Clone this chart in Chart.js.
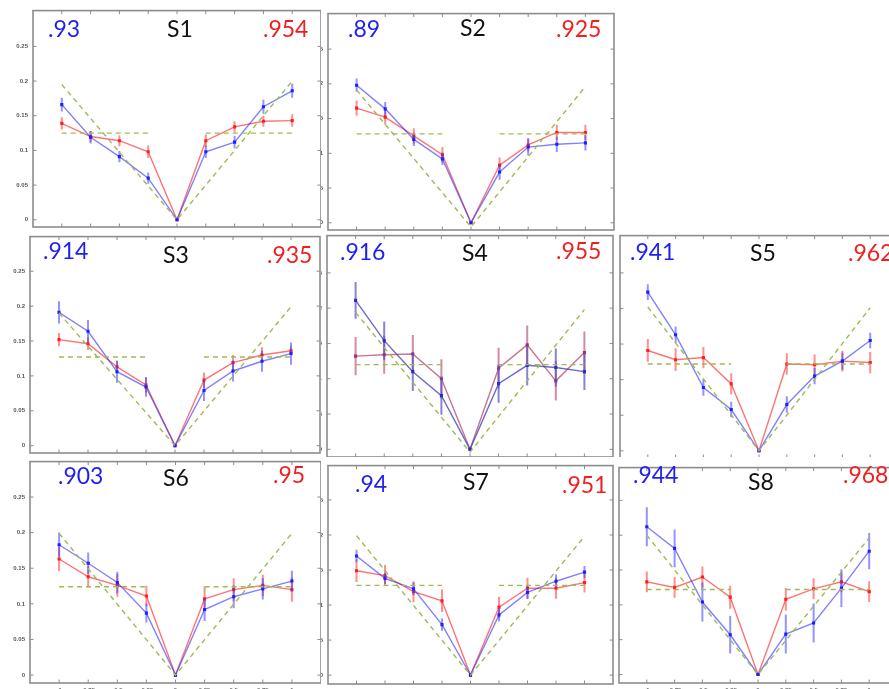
<!DOCTYPE html>
<html><head><meta charset="utf-8">
<script src="https://cdn.jsdelivr.net/npm/chart.js@4"></script>
<style>
html,body{margin:0;padding:0;background:#fff;width:889px;height:689px;overflow:hidden;position:relative}
.crop{position:absolute;overflow:hidden}
.crop canvas{position:absolute}
.lbl{position:absolute;font-family:Lato,'Open Sans',sans-serif;font-size:23px;line-height:23px;white-space:nowrap}
</style></head><body>
<script>
// shared axes
const xValues = [-1, -0.75, -0.5, -0.25, 0, 0.25, 0.5, 0.75, 1];
const xTickLabels = ['-1', '-0.75', '-0.5', '-0.25', '0', '0.25', '0.5', '0.75', '1'];
const yTickValues = [0, 0.05, 0.1, 0.15, 0.2, 0.25];
const yTickLabels = ['0', '0.05', '0.1', '0.15', '0.2', '0.25'];
const diagX = [-1, 0, 1];
const levelLeft = [-1, -0.25];
const levelRight = [0.25, 1];

const panelNames = ['S1', 'S2', 'S3', 'S4', 'S5', 'S6', 'S7', 'S8'];
const blueScores = ['.93', '.89', '.914', '.916', '.941', '.903', '.94', '.944'];
const redScores = ['.954', '.925', '.935', '.955', '.962', '.95', '.951', '.968'];

// S1
const s1Blue = [0.166, 0.119, 0.091, 0.060, 0, 0.098, 0.112, 0.163, 0.186];
const s1BlueErr = [0.010, 0.009, 0.008, 0.008, 0, 0.009, 0.009, 0.010, 0.010];
const s1Red = [0.139, 0.120, 0.114, 0.098, 0, 0.114, 0.134, 0.142, 0.143];
const s1RedErr = [0.009, 0.008, 0.008, 0.009, 0, 0.009, 0.008, 0.008, 0.009];
const s1Diag = [0.195, 0, 0.2];
const s1Level = 0.125;
// S2
const s2Blue = [0.198, 0.164, 0.120, 0.092, 0, 0.073, 0.109, 0.113, 0.115];
const s2BlueErr = [0.0095, 0.010, 0.0095, 0.009, 0, 0.011, 0.012, 0.011, 0.011];
const s2Red = [0.165, 0.152, 0.125, 0.098, 0, 0.083, 0.112, 0.130, 0.130];
const s2RedErr = [0.011, 0.011, 0.011, 0.011, 0, 0.011, 0.0095, 0.011, 0.011];
const s2Diag = [0.191, -0.006, 0.196];
const s2Level = 0.128;
// S3
const s3Blue = [0.191, 0.164, 0.106, 0.084, 0, 0.079, 0.107, 0.121, 0.132];
const s3BlueErr = [0.016, 0.016, 0.016, 0.014, 0, 0.015, 0.015, 0.015, 0.016];
const s3Red = [0.152, 0.146, 0.113, 0.087, 0, 0.094, 0.119, 0.130, 0.136];
const s3RedErr = [0.0095, 0.009, 0.008, 0.011, 0, 0.011, 0.011, 0.011, 0.0065];
const s3Diag = [0.19, 0, 0.199];
const s3Level = 0.127;
// S4
const s4Blue = [0.211, 0.154, 0.110, 0.076, 0, 0.093, 0.119, 0.116, 0.110];
const s4BlueErr = [0.026, 0.027, 0.0275, 0.027, 0, 0.027, 0.0285, 0.027, 0.026];
const s4Red = [0.132, 0.134, 0.135, 0.100, 0, 0.115, 0.148, 0.097, 0.137];
const s4RedErr = [0.027, 0.027, 0.027, 0.0275, 0, 0.029, 0.0275, 0.028, 0.030];
const s4Diag = [0.194, -0.004, 0.198];
const s4Level = 0.120;
// S5
const s5Blue = [0.223, 0.163, 0.089, 0.058, 0, 0.065, 0.105, 0.126, 0.155];
const s5BlueErr = [0.011, 0.0115, 0.0115, 0.011, 0, 0.0115, 0.0115, 0.012, 0.011];
const s5Red = [0.141, 0.128, 0.131, 0.094, 0, 0.122, 0.121, 0.126, 0.124];
const s5RedErr = [0.016, 0.016, 0.015, 0.015, 0, 0.015, 0.0145, 0.0145, 0.015];
const s5Diag = [0.202, 0, 0.201];
const s5Level = 0.122;
// S6
const s6Blue = [0.183, 0.157, 0.130, 0.087, 0, 0.092, 0.110, 0.121, 0.132];
const s6BlueErr = [0.017, 0.015, 0.015, 0.013, 0, 0.016, 0.016, 0.015, 0.0145];
const s6Red = [0.163, 0.138, 0.126, 0.111, 0, 0.107, 0.120, 0.126, 0.120];
const s6RedErr = [0.017, 0.015, 0.016, 0.0145, 0, 0.0175, 0.016, 0.015, 0.017];
const s6Diag = [0.199, 0, 0.199];
const s6Level = 0.124;
// S7
const s7Blue = [0.170, 0.138, 0.123, 0.072, 0, 0.086, 0.118, 0.134, 0.147];
const s7BlueErr = [0.009, 0.008, 0.009, 0.0087, 0, 0.009, 0.0094, 0.0094, 0.0087];
const s7Red = [0.149, 0.142, 0.119, 0.106, 0, 0.097, 0.124, 0.124, 0.132];
const s7RedErr = [0.016, 0.015, 0.015, 0.016, 0, 0.015, 0.015, 0.015, 0.014];
const s7Diag = [0.199, 0, 0.198];
const s7Level = 0.128;
// S8
const s8Blue = [0.212, 0.181, 0.104, 0.057, 0, 0.058, 0.074, 0.124, 0.177];
const s8BlueErr = [0.028, 0.027, 0.028, 0.027, 0, 0.028, 0.028, 0.027, 0.026];
const s8Red = [0.133, 0.125, 0.140, 0.111, 0, 0.108, 0.123, 0.133, 0.119];
const s8RedErr = [0.015, 0.015, 0.015, 0.0165, 0, 0.016, 0.015, 0.015, 0.015];
const s8Diag = [0.2, 0, 0.196];
const s8Level = 0.122;

// layout of the eight sub-figures: visible window, frame box, value range
const panels = [
  {blue:s1Blue, blueErr:s1BlueErr, red:s1Red, redErr:s1RedErr, diag:s1Diag, level:s1Level,
   crop:[0,0,321,231], box:[33,8,321,227], yRange:[-0.0104,0.3016],
   labels:{blue:[48,29], name:[167,29], red:[263,29]}},
  {blue:s2Blue, blueErr:s2BlueErr, red:s2Red, redErr:s2RedErr, diag:s2Diag, level:s2Level,
   crop:[321,0,616,231], box:[328,11,614,230], yRange:[-0.0104,0.3011],
   labels:{blue:[348,29], name:[460,28], red:[556,29]}},
  {blue:s3Blue, blueErr:s3BlueErr, red:s3Red, redErr:s3RedErr, diag:s3Diag, level:s3Level,
   crop:[0,231,321,457], box:[30,234,320,453], yRange:[-0.0105,0.2996],
   labels:{blue:[43,251], name:[163,255], red:[267,255]}},
  {blue:s4Blue, blueErr:s4BlueErr, red:s4Red, redErr:s4RedErr, diag:s4Diag, level:s4Level,
   crop:[321,231,616,457], box:[327,233,613,457], yRange:[-0.0109,0.3028], muted:true,
   labels:{blue:[340,252], name:[462,253], red:[556,251]}},
  {blue:s5Blue, blueErr:s5BlueErr, red:s5Red, redErr:s5RedErr, diag:s5Diag, level:s5Level,
   crop:[616,231,889,457], box:[620,233,898,458], yRange:[-0.0101,0.3024],
   labels:{blue:[630,252], name:[750,253], red:[848,253]}},
  {blue:s6Blue, blueErr:s6BlueErr, red:s6Red, redErr:s6RedErr, diag:s6Diag, level:s6Level,
   crop:[0,457,321,689], box:[30,459,321,683], yRange:[-0.0111,0.2997],
   labels:{blue:[58,476], name:[163,478], red:[273,475]}},
  {blue:s7Blue, blueErr:s7BlueErr, red:s7Red, redErr:s7RedErr, diag:s7Diag, level:s7Level,
   crop:[321,457,616,689], box:[328,463,613,684], yRange:[-0.0127,0.299],
   labels:{blue:[355,484], name:[463,482], red:[562,485]}},
  {blue:s8Blue, blueErr:s8BlueErr, red:s8Red, redErr:s8RedErr, diag:s8Diag, level:s8Level,
   crop:[616,457,889,689], box:[619,465,897,683], yRange:[-0.0122,0.297],
   labels:{blue:[633,475], name:[748,482], red:[843,475]}}
];

const GREEN = '#9dbb55';

// matlab-style frame with inward ticks
const framePlugin = {
  id: 'frame',
  beforeDatasetsDraw(chart) {
    const {ctx, chartArea: a, scales: {x, y}} = chart;
    ctx.save();
    ctx.strokeStyle = '#8c8c8c';
    ctx.lineWidth = 1.6;
    ctx.strokeRect(a.left, a.top, a.right - a.left, a.bottom - a.top);
    ctx.lineWidth = 1;
    const t = 3.5;
    ctx.beginPath();
    xValues.forEach(v => {
      const px = x.getPixelForValue(v);
      ctx.moveTo(px, a.bottom); ctx.lineTo(px, a.bottom - t);
      ctx.moveTo(px, a.top); ctx.lineTo(px, a.top + t);
    });
    yTickValues.forEach(v => {
      const py = y.getPixelForValue(v);
      ctx.moveTo(a.left, py); ctx.lineTo(a.left + t, py);
      ctx.moveTo(a.right, py); ctx.lineTo(a.right - t, py);
    });
    ctx.stroke();
    ctx.restore();
  }
};

// vertical error bars for datasets that carry an errorBars array
const errorBarPlugin = {
  id: 'errorBars',
  beforeDatasetDraw(chart, args) {
    const ds = chart.data.datasets[args.index];
    if (!ds.errorBars) return;
    const {ctx, scales: {y}} = chart;
    ctx.save();
    ctx.strokeStyle = ds.errorColor;
    ctx.lineWidth = 2;
    ctx.beginPath();
    args.meta.data.forEach((pt, i) => {
      const e = ds.errorBars[i];
      if (!e) return;
      const v = ds.data[i].y;
      ctx.moveTo(pt.x, y.getPixelForValue(v - e));
      ctx.lineTo(pt.x, y.getPixelForValue(v + e));
    });
    ctx.stroke();
    ctx.restore();
  }
};

const tickFont = {family: "'Liberation Sans', Arial, sans-serif", size: 6, weight: 'bold'};

function addLabel(text, pos, color) {
  const d = document.createElement('div');
  d.className = 'lbl';
  d.textContent = text;
  d.style.left = pos[0] + 'px';
  d.style.top = (pos[1] - 12) + 'px';
  d.style.color = color;
  document.body.appendChild(d);
}

panels.forEach((p, k) => {
  const [cl, ct, cr, cb] = p.crop;
  const [bl, bt, br, bb] = p.box;
  const padL = 40, padT = 6, padR = 6, padB = 16;
  const wrap = document.createElement('div');
  wrap.className = 'crop';
  Object.assign(wrap.style, {left: cl + 'px', top: ct + 'px', width: (cr - cl) + 'px', height: (cb - ct) + 'px'});
  document.body.appendChild(wrap);
  const cv = document.createElement('canvas');
  const W = br - bl + padL + padR, H = bb - bt + padT + padB;
  cv.width = W; cv.height = H;
  cv.style.width = W + 'px'; cv.style.height = H + 'px';
  cv.style.left = (bl - cl - padL) + 'px';
  cv.style.top = (bt - ct - padT) + 'px';
  wrap.appendChild(cv);

  const blueLine = p.muted ? 'rgba(70,70,185,0.8)' : 'rgba(45,45,255,0.6)';
  const blueErr = p.muted ? 'rgba(80,80,200,0.7)' : 'rgba(60,60,255,0.55)';
  const blueDot = p.muted ? '#2a2ac8' : '#1e1eff';
  const redLine = p.muted ? 'rgba(185,85,120,0.8)' : 'rgba(255,40,40,0.65)';
  const redErr = p.muted ? 'rgba(190,90,125,0.7)' : 'rgba(255,50,50,0.55)';
  const redDot = p.muted ? '#b02a5a' : '#ff1e1e';

  const pts = arr => xValues.map((x, i) => ({x, y: arr[i]}));
  const levelData = [
    {x: levelLeft[0], y: p.level}, {x: levelLeft[1], y: p.level},
    {x: 0, y: null},
    {x: levelRight[0], y: p.level}, {x: levelRight[1], y: p.level}
  ];

  new Chart(cv, {
    type: 'line',
    data: {
      datasets: [
        {data: diagX.map((x, i) => ({x, y: p.diag[i]})), borderColor: GREEN, borderDash: [5, 4],
         borderWidth: 1.4, pointRadius: 0, tension: 0},
        {data: levelData, borderColor: GREEN, borderDash: [5, 4], borderWidth: 1.4,
         pointRadius: 0, spanGaps: false, tension: 0},
        {data: pts(p.blue), errorBars: p.blueErr, errorColor: blueErr, borderColor: blueLine,
         borderWidth: 1.4, pointStyle: 'rect', pointRadius: 2.2, pointBorderWidth: 0,
         pointBackgroundColor: blueDot, tension: 0},
        {data: pts(p.red), errorBars: p.redErr, errorColor: redErr, borderColor: redLine,
         borderWidth: 1.4, pointStyle: 'rect', pointRadius: 2.2, pointBorderWidth: 0,
         pointBackgroundColor: redDot, tension: 0}
      ]
    },
    options: {
      responsive: false, animation: false, devicePixelRatio: 1,
      layout: {padding: {left: 0, top: padT, right: padR, bottom: 0}},
      plugins: {legend: {display: false}, tooltip: {enabled: false}},
      scales: {
        x: {
          type: 'linear', min: -1.25, max: 1.25,
          grid: {display: false, drawTicks: false}, border: {display: false},
          afterBuildTicks: a => { a.ticks = xValues.map(v => ({value: v})); },
          afterFit: a => { a.height = padB; },
          ticks: {autoSkip: false, maxRotation: 0, padding: 4, color: '#666', font: tickFont,
                  callback: (v, i) => xTickLabels[i]}
        },
        y: {
          type: 'linear', min: p.yRange[0], max: p.yRange[1],
          grid: {display: false, drawTicks: false}, border: {display: false},
          afterBuildTicks: a => { a.ticks = yTickValues.map(v => ({value: v})); },
          afterFit: a => { a.width = padL; },
          ticks: {autoSkip: false, padding: 5, color: '#555', font: tickFont,
                  callback: (v, i) => yTickLabels[i]}
        }
      }
    },
    plugins: [framePlugin, errorBarPlugin]
  });

  addLabel(blueScores[k], p.labels.blue, '#1f1ff0');
  addLabel(panelNames[k], p.labels.name, '#111');
  addLabel(redScores[k], p.labels.red, '#f01f1f');
});
</script>
</body></html>
